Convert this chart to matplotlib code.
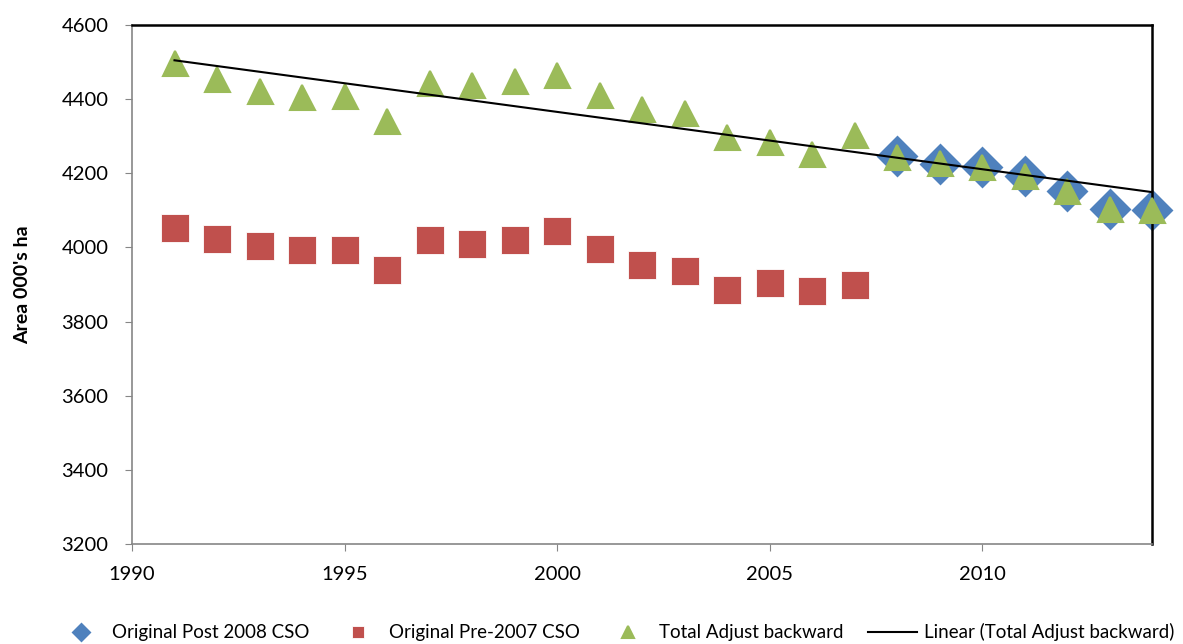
import numpy as np
import matplotlib.pyplot as plt

plt.rcParams['font.family'] = ['Lato', 'DejaVu Sans']

# dados
anos_post = [2008, 2009, 2010, 2011, 2012, 2013, 2014]
post_2008 = [4246, 4226, 4218, 4194, 4153, 4104, 4100]

anos_pre = list(range(1991, 2008))
pre_2007 = [4052, 4023, 4003, 3992, 3992, 3938, 4019, 4009, 4021, 4045,
            3997, 3952, 3937, 3884, 3903, 3882, 3900]

anos_total = list(range(1991, 2015))
total_adj = [4498, 4454, 4421, 4405, 4408, 4340, 4444, 4438, 4450, 4466,
             4411, 4373, 4362, 4297, 4284, 4253, 4304, 4245, 4227, 4218,
             4193, 4153, 4103, 4101]

azul = '#4F81BD'
vermelho = '#C0504D'
verde = '#9BBB59'

fig = plt.figure(figsize=(11.83, 6.44), dpi=100)
ax = fig.add_axes([132 / 1183, 1 - 544 / 644, (1152 - 132) / 1183, (544 - 25) / 644])

ax.plot(anos_post, post_2008, linestyle='none', marker='D', ms=19,
        color=azul, mec=azul, mew=2, label='Original Post 2008 CSO',
        zorder=2, clip_on=False)
ax.plot(anos_pre, pre_2007, linestyle='none', marker='s', ms=20,
        color=vermelho, mec='white', mew=0.6, label='Original Pre-2007 CSO',
        zorder=3, clip_on=False)
ax.plot(anos_total, total_adj, linestyle='none', marker='^', ms=18,
        color=verde, mec=verde, mew=1.5, label='Total Adjust backward',
        zorder=4, clip_on=False)

# linha de tendência (regressão linear)
coef = np.polyfit(anos_total, total_adj, 1)
x_tend = np.array([anos_total[0], anos_total[-1]])
ax.plot(x_tend, np.polyval(coef, x_tend), color='black', lw=1.5,
        label='Linear (Total Adjust backward)', zorder=5, clip_on=False)

ax.set_xlim(1990, 2014)
ax.set_ylim(3200, 4600)
ax.set_xticks([1990, 1995, 2000, 2005, 2010])
ax.set_yticks(range(3200, 4601, 200))
ax.tick_params(axis='both', direction='out', length=5, color='#868686',
               labelsize=14.5)
ax.tick_params(axis='y', pad=12)
ax.tick_params(axis='x', pad=11)

ax.spines['left'].set_color('#868686')
ax.spines['bottom'].set_color('#868686')
ax.spines['top'].set_color('black')
ax.spines['right'].set_color('black')
for s in ['top', 'right']:
    ax.spines[s].set_linewidth(1.8)
for s in ['left', 'bottom']:
    ax.spines[s].set_linewidth(1.2)

ax.set_ylabel("Area 000's ha", fontsize=14, fontweight='bold', labelpad=22)

fig.legend(loc='lower center', bbox_to_anchor=(0.52, -0.022), ncol=4,
           frameon=False, fontsize=13.5, markerscale=0.45, handlelength=2.6,
           columnspacing=1.3, handletextpad=0.35)

plt.savefig('out.png', dpi=100)
